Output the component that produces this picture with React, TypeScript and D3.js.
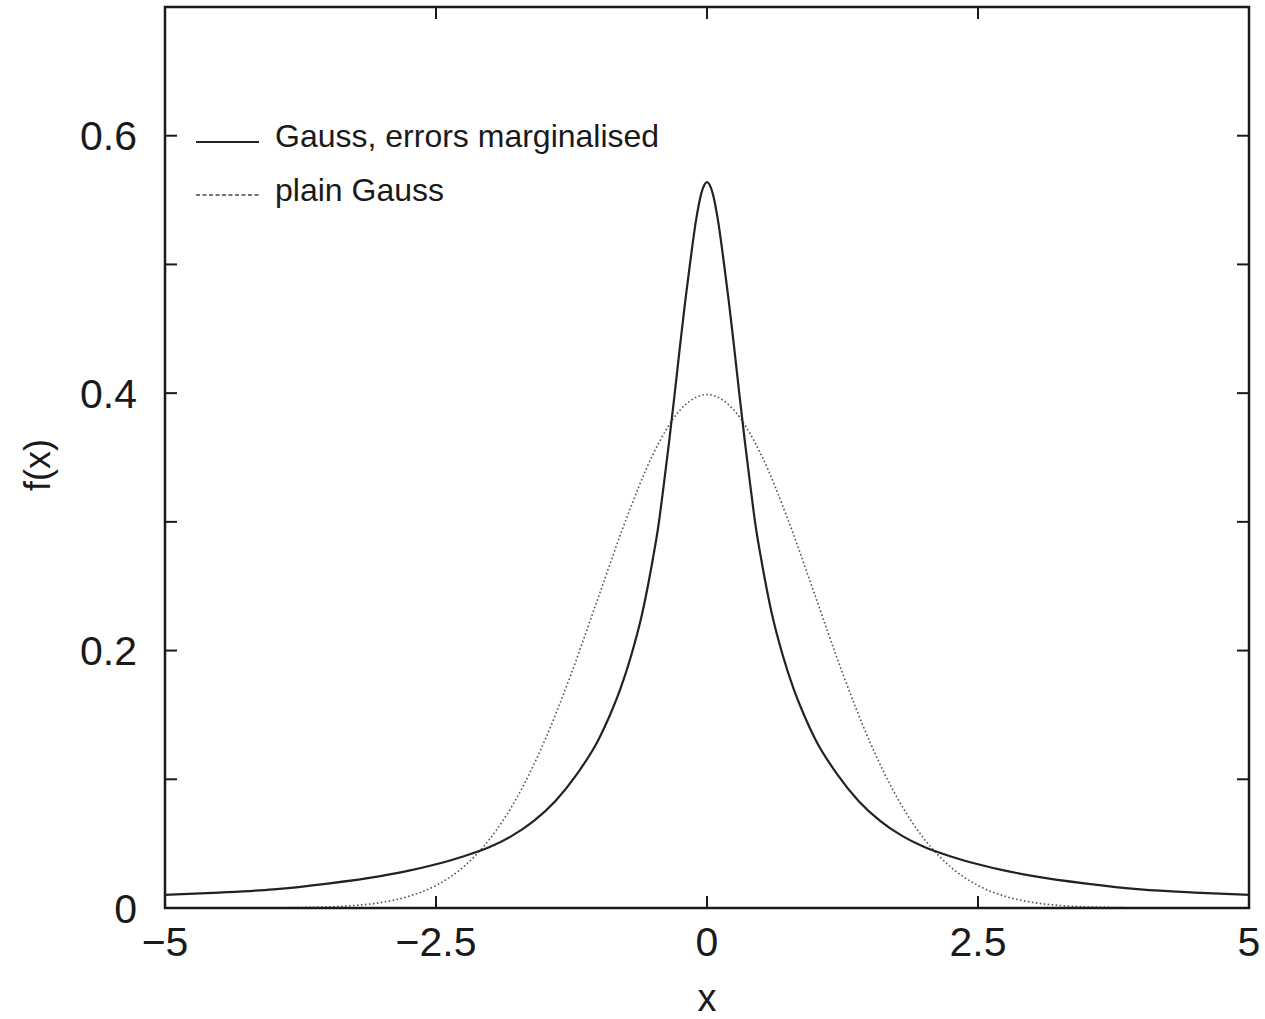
import React from "react";
import * as d3 from "d3";

const xValues = [-5, -4.5, -4, -3.5, -3, -2.75, -2.5, -2.25, -2, -1.8, -1.6, -1.4, -1.2, -1, -0.9, -0.8, -0.7, -0.6, -0.5, -0.45, -0.4, -0.35, -0.3, -0.25, -0.2, -0.15, -0.1, -0.05, 0, 0.05, 0.1, 0.15, 0.2, 0.25, 0.3, 0.35, 0.4, 0.45, 0.5, 0.6, 0.7, 0.8, 0.9, 1, 1.2, 1.4, 1.6, 1.8, 2, 2.25, 2.5, 2.75, 3, 3.5, 4, 4.5, 5];
const marginalised = [0.0102, 0.012, 0.0145, 0.019, 0.025, 0.029, 0.034, 0.04, 0.0475, 0.056, 0.0675, 0.083, 0.104, 0.131, 0.149, 0.17, 0.196, 0.228, 0.271, 0.296, 0.328, 0.362, 0.398, 0.436, 0.472, 0.505, 0.535, 0.556, 0.564, 0.556, 0.535, 0.505, 0.472, 0.436, 0.398, 0.362, 0.328, 0.296, 0.271, 0.228, 0.196, 0.17, 0.149, 0.131, 0.104, 0.083, 0.0675, 0.056, 0.0475, 0.04, 0.034, 0.029, 0.025, 0.019, 0.0145, 0.012, 0.0102];

const gaussX = [-5, -4.5, -4, -3.75, -3.5, -3.25, -3, -2.75, -2.5, -2.25, -2, -1.75, -1.5, -1.25, -1, -0.75, -0.5, -0.25, 0, 0.25, 0.5, 0.75, 1, 1.25, 1.5, 1.75, 2, 2.25, 2.5, 2.75, 3, 3.25, 3.5, 3.75, 4, 4.5, 5];
const plainGauss = [0.0, 0.0, 0.0001, 0.0004, 0.0009, 0.002, 0.0044, 0.0091, 0.0175, 0.0317, 0.054, 0.0863, 0.1295, 0.1826, 0.242, 0.3011, 0.3521, 0.3867, 0.3989, 0.3867, 0.3521, 0.3011, 0.242, 0.1826, 0.1295, 0.0863, 0.054, 0.0317, 0.0175, 0.0091, 0.0044, 0.002, 0.0009, 0.0004, 0.0001, 0.0, 0.0];

const xTicks = [-5, -2.5, 0, 2.5, 5];
const xTickLabels = ["\u22125", "\u22122.5", "0", "2.5", "5"];
const yTicks = [0, 0.1, 0.2, 0.3, 0.4, 0.5, 0.6, 0.7];
const yTickLabels = ["0", "", "0.2", "", "0.4", "", "0.6", ""];
const legendLabels = ["Gauss, errors marginalised", "plain Gauss"];

export default function App() {
  const W = 1265, H = 1019;
  const left = 165, right = 1249, top = 7, bottom = 908;
  const x = d3.scaleLinear().domain([-5, 5]).range([left, right]);
  const y = d3.scaleLinear().domain([0, 0.7]).range([bottom, top]);

  const lineA = d3.line<number>().x((_, i) => x(xValues[i])).y((d) => y(d)).curve(d3.curveMonotoneX);
  const lineB = d3.line<number>().x((_, i) => x(gaussX[i])).y((d) => y(d)).curve(d3.curveMonotoneX);

  const font = "'Liberation Sans', Arial, Helvetica, sans-serif";
  const tickLen = 12;
  const ink = "#1a1a1a";

  return (
    <svg width={W} height={H} style={{ position: "absolute", left: 0, top: 0, background: "#fff" }} fontFamily={font}>
      <defs>
        <clipPath id="plot">
          <rect x={left} y={top} width={right - left} height={bottom - top} />
        </clipPath>
      </defs>
      <rect x={0} y={0} width={W} height={H} fill="#fff" />
      <g clipPath="url(#plot)">
        <path d={lineB(plainGauss) || ""} fill="none" stroke="#555" strokeWidth={1.6} strokeDasharray="1.6,2.4" />
        <path d={lineA(marginalised) || ""} fill="none" stroke="#222" strokeWidth={2.2} />
      </g>
      {yTicks.map((t, i) => (
        <g key={"y" + i}>
          <line x1={left} x2={left + tickLen} y1={y(t)} y2={y(t)} stroke={ink} strokeWidth={2} />
          <line x1={right} x2={right - tickLen} y1={y(t)} y2={y(t)} stroke={ink} strokeWidth={2} />
          {yTickLabels[i] && (
            <text x={137} y={y(t)} dy="0.36em" textAnchor="end" fontSize={41} fill={ink}>
              {yTickLabels[i]}
            </text>
          )}
        </g>
      ))}
      {xTicks.map((t, i) => (
        <g key={"x" + i}>
          <line x1={x(t)} x2={x(t)} y1={bottom} y2={bottom - tickLen} stroke={ink} strokeWidth={2} />
          <line x1={x(t)} x2={x(t)} y1={top} y2={top + tickLen} stroke={ink} strokeWidth={2} />
          <text x={x(t)} y={956} textAnchor="middle" fontSize={41} fill={ink}>
            {xTickLabels[i]}
          </text>
        </g>
      ))}
      <rect x={left} y={top} width={right - left} height={bottom - top} fill="none" stroke={ink} strokeWidth={2.5} />
      <text x={707} y={1011} textAnchor="middle" fontSize={38} fill={ink}>x</text>
      <text transform={`translate(50,465) rotate(-90)`} textAnchor="middle" fontSize={36} fill={ink}>f(x)</text>
      <line x1={196} x2={259} y1={142} y2={142} stroke="#222" strokeWidth={2} />
      <text x={275} y={147} fontSize={32} fill={ink}>{legendLabels[0]}</text>
      <line x1={196} x2={259} y1={195} y2={195} stroke="#444" strokeWidth={1.6} strokeDasharray="4,2.5" />
      <text x={275} y={201} fontSize={32} fill={ink}>{legendLabels[1]}</text>
    </svg>
  );
}
